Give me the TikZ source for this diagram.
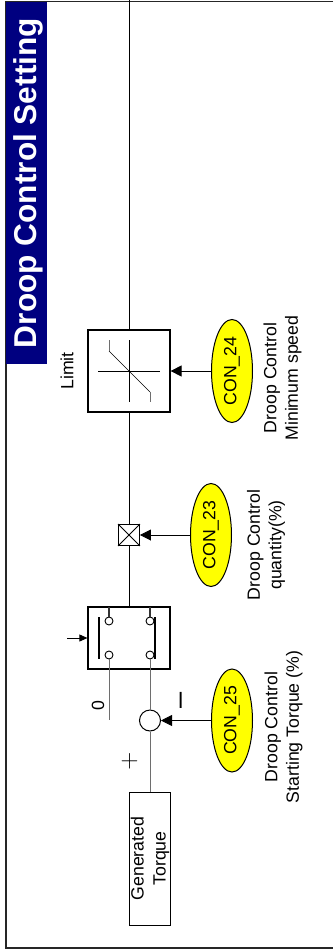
\documentclass[tikz,border=0pt]{standalone}
\usepackage{fontspec}
\setmainfont{Liberation Sans}
\usetikzlibrary{arrows.meta,shapes.geometric}
\definecolor{headnavy}{RGB}{0,0,128}
\definecolor{conyellow}{RGB}{255,255,0}
\definecolor{wiregray}{RGB}{110,110,110}
\tikzset{
 x=1pt,y=-1pt,
 wire/.style={line width=0.8pt,black},
 graywire/.style={line width=1pt,wiregray},
 feed/.style={line width=0.8pt,black,-{Triangle[length=11pt,width=11pt]}},
 block/.style={draw=black,line width=1.2pt,fill=white,inner sep=0pt,rectangle},
 con/.style={draw=black,line width=1pt,fill=conyellow,ellipse,inner sep=0pt,minimum width=103pt,minimum height=41pt,rotate=90,font=\fontsize{17.7}{21}\selectfont},
 lab/.style={rotate=90,font=\fontsize{17.7}{21.5}\selectfont,align=center,inner sep=0pt},
 contact/.style={circle,draw=black,line width=0.9pt,fill=white,inner sep=0pt,minimum size=8pt},
}
\begin{document}
\begin{tikzpicture}
\useasboundingbox (0,0) rectangle (333,950);
\fill[white] (0,0) rectangle (333,950);
% frame
\draw[line width=1.6pt,black!85] (333,1.5) -- (6,1.5) -- (6,948) -- (333,948);
% header
\node[fill=headnavy,minimum width=41pt,minimum height=362pt,inner sep=0pt,anchor=north west] (head) at (6,2) {};
\node[rotate=90,text=white,font=\bfseries\fontsize{31.6}{34}\selectfont,inner sep=0pt] (title) at (28,183) {Droop Control Setting};
% main line
\coordinate (topend) at (129,0);
\node[block,minimum width=82pt,minimum height=82pt] (limit) at (129,371) {};
\node[block,line width=0.9pt,minimum width=21pt,minimum height=21pt] (cross) at (129,535) {};
\node[block,minimum width=82pt,minimum height=62pt] (sw) at (129,638) {};
\draw[wire] (topend) -- (limit.north);
\draw[wire] (limit.south) -- (cross.north);
\draw[wire] (cross.south) -- (sw.north);
% cross mark
\draw[line width=0.9pt] (cross.north west) -- (cross.south east) (cross.north east) -- (cross.south west);
% limiter symbol
\draw[line width=0.6pt] (129,340) -- (129,402) (98,371) -- (160,371);
\draw[line width=0.6pt] (109,351) -- (150,392);
\draw[graywire] (109,340) -- (109,351) (150,392) -- (150,402);
% switch
\node[contact] (c1) at (109,621) {};
\node[contact] (c2) at (150,621) {};
\node[contact] (c3) at (109,655) {};
\node[contact] (c4) at (150,655) {};
\coordinate (s1) at (109,607);
\coordinate (s2) at (150,607);
\draw[line width=1.2pt,black!80] (s1) -- (c1) (s2) -- (c2);
\draw[line width=2pt] (98.5,617) -- (98.5,659);
\draw[line width=2pt] (155,617) -- (155,659);
\coordinate (swin) at (67,638);
\draw[wire,-{Triangle[length=8pt,width=7pt]}] (swin) -- (sw.west);
\coordinate (zeroend) at (109,720);
\draw[graywire] (c3) -- (zeroend);
% summing junction
\node[circle,draw=black,line width=1pt,fill=white,minimum size=21pt,inner sep=0pt] (sum) at (150,720.5) {};
\draw[graywire] (c4) -- (sum);
\node[block,line width=0.8pt,minimum width=133pt,minimum height=41pt,rotate=90,align=center,font=\fontsize{17.7}{22}\selectfont] (gen) at (150,858.5) {Generated\\Torque};
\draw[graywire] (sum) -- (gen.east);
\node[lab] (l0) at (98,706) {0};
\node[font=\fontsize{24.88}{27}\selectfont,inner sep=0pt] (plus) at (129.5,761.5) {$+$};
\node[rotate=90,font=\fontsize{29}{31}\selectfont,inner sep=0pt] (minus) at (184.5,700) {–};
% CONs
\node[con] (c24) at (232,371) {CON\_24};
\node[con] (c23) at (211,535) {CON\_23};
\node[con] (c25) at (232,720.5) {CON\_25};
\draw[feed] (c24) -- (limit);
\draw[feed] (c23) -- (cross);
\draw[feed] (c25) -- (sum);
% labels
\node[lab] (limitl) at (67,371) {Limit};
\node[lab] (t24) at (282.5,378) {Droop Control\\Minimum speed};
\node[lab] (t23) at (266,545) {Droop Control\\quantity(\%)};
\node[lab] (t25) at (283.5,727) {Droop Control\\Starting Torque (\%)};
\end{tikzpicture}
\end{document}
